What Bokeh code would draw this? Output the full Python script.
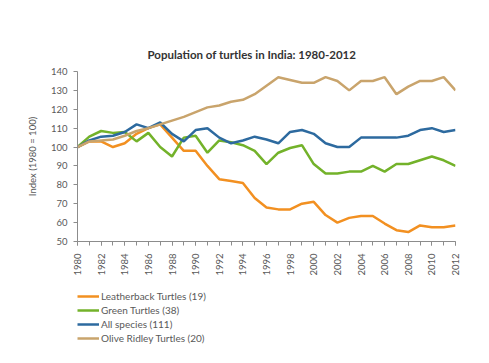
import math
from bokeh.plotting import figure
from bokeh.layouts import column
from bokeh.models import FixedTicker, Legend, LegendItem, Range1d
from bokeh.embed import file_html
from bokeh.resources import INLINE

years = list(range(1980, 2013))
leatherback = [100, 103, 103, 100, 102, 107, 110, 112, 105, 98, 98, 90, 83, 82, 81, 73, 68, 67,
               67, 70, 71, 64, 60, 62.5, 63.5, 63.5, 59.5, 56, 55, 58.5, 57.5, 57.5, 58.5]
green = [100, 105.5, 108.5, 107.5, 108, 103, 107.5, 100, 95, 105, 106, 97, 103.5, 102.5, 101, 98, 91, 97,
         99.5, 101, 91, 86, 86, 87, 87, 90, 87, 91, 91, 93, 95, 93, 90]
all_species = [100, 103.5, 105.5, 106, 108, 112, 110, 113, 107, 103, 109, 110, 105, 102, 103.5, 105.5, 104, 102,
               108, 109, 107, 102, 100, 100, 105, 105, 105, 105, 106, 109, 110, 108, 109]
olive_ridley = [100, 103, 103.5, 104, 106, 108.5, 110, 112, 114, 116, 118.5, 121, 122, 124, 125, 128, 132.5, 137,
                135.5, 134, 134, 137, 135, 130, 135, 135, 137, 128, 132, 135, 135, 137, 130]

series_names = ["Leatherback Turtles (19)", "Green Turtles (38)", "All species (111)", "Olive Ridley Turtles (20)"]
series_values = [leatherback, green, all_species, olive_ridley]
colors = ["#F29021", "#73B22A", "#2D6A9F", "#C9A46C"]

y_ticks = [50, 60, 70, 80, 90, 100, 110, 120, 130, 140]
x_ticks = list(range(1980, 2013, 2))

FONT = "Lato"
TEXT = "#595959"
AXIS = "#8C8C8C"

p = figure(width=481, height=285, output_backend="svg", toolbar_location=None,
           x_range=Range1d(1980, 2012), y_range=Range1d(50, 140),
           min_border_left=77, min_border_right=26, min_border_top=71, min_border_bottom=44)
p.title.text = "Population of turtles in India: 1980-2012"
p.title.align = "left"
p.title.offset = 70
p.title.text_font = FONT
p.title.text_font_size = "11.5px"
p.title.text_font_style = "bold"
p.title.text_color = "#333333"
p.title.standoff = 22
p.outline_line_color = None
p.xgrid.visible = False
p.ygrid.visible = False
p.background_fill_color = "white"
p.border_fill_color = "white"

# y axis
p.yaxis.ticker = FixedTicker(ticks=y_ticks)
p.yaxis.axis_label = "Index (1980 = 100)"
p.yaxis.axis_label_text_font = FONT
p.yaxis.axis_label_text_font_size = "9.5px"
p.yaxis.axis_label_text_font_style = "normal"
p.yaxis.axis_label_text_color = TEXT
p.yaxis.axis_label_standoff = 10
p.yaxis.major_label_text_font = FONT
p.yaxis.major_label_text_font_size = "9.5px"
p.yaxis.major_label_text_color = TEXT
p.yaxis.axis_line_color = AXIS
p.yaxis.major_tick_line_color = AXIS
p.yaxis.major_tick_out = 4
p.yaxis.major_tick_in = 0
p.yaxis.minor_tick_line_color = None
p.yaxis.major_label_standoff = 6

# x axis
p.xaxis.ticker = FixedTicker(ticks=x_ticks, minor_ticks=years)
p.xaxis.major_label_orientation = math.pi / 2
p.xaxis.major_label_text_font = FONT
p.xaxis.major_label_text_font_size = "9.5px"
p.xaxis.major_label_text_color = TEXT
p.xaxis.axis_line_color = AXIS
p.xaxis.major_tick_line_color = AXIS
p.xaxis.minor_tick_line_color = AXIS
p.xaxis.major_tick_out = 4
p.xaxis.major_tick_in = 0
p.xaxis.minor_tick_out = 4
p.xaxis.minor_tick_in = 0
p.xaxis.major_label_standoff = 8

for vals, col in zip(series_values, colors):
    p.line(years, vals, line_color=col, line_width=2.5)

# legend panel below the chart (same series, drawn outside its visible range)
lg = figure(width=481, height=70, output_backend="svg", toolbar_location=None,
            x_range=Range1d(0, 1), y_range=Range1d(0, 1),
            min_border=0, min_border_left=0, min_border_right=0,
            min_border_top=0, min_border_bottom=0)
lg.axis.visible = False
lg.grid.visible = False
lg.outline_line_color = None
lg.border_fill_color = "white"
items = []
for name, vals, col in zip(series_names, series_values, colors):
    r = lg.line(years, vals, line_color=col, line_width=2.5)
    items.append(LegendItem(label=name, renderers=[r]))
legend = Legend(items=items, location=(0, 10), orientation="vertical",
                margin=0, padding=0, spacing=0, label_height=14, glyph_height=14,
                glyph_width=22, label_standoff=2, border_line_color=None,
                background_fill_alpha=0,
                label_text_font=FONT, label_text_font_size="10px", label_text_color=TEXT)
lg.add_layout(legend, "center")

layout = column(p, lg, spacing=0)
open("out.html", "w").write(file_html(layout, INLINE))
